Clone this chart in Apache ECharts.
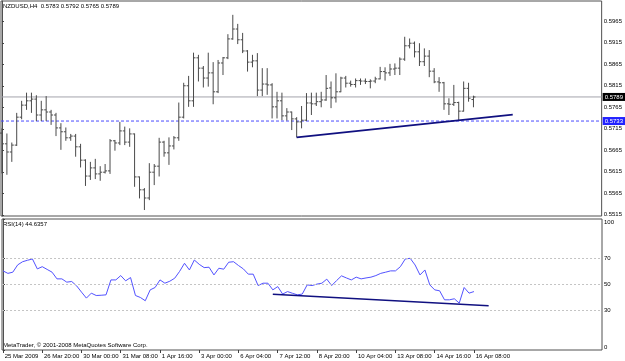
<!DOCTYPE html>
<html><head><meta charset="utf-8">
<script src="https://cdn.jsdelivr.net/npm/echarts@6/dist/echarts.min.js"></script>
<style>html,body{margin:0;padding:0;background:#fff}#c{width:625px;height:361px}</style>
</head><body><div id="c"></div>
<script>
// ---- data (NZDUSD, H4) ----
const opens = [0.5705,0.5680,0.5661,0.5677,0.5742,0.5770,0.5780,0.5784,0.5747,0.5759,
0.5754,0.5747,0.5717,0.5708,0.5694,0.5698,0.5673,0.5642,0.5605,0.5624,
0.5610,0.5614,0.5617,0.5687,0.5682,0.5710,0.5684,0.5703,0.5603,0.5573,
0.5554,0.5614,0.5628,0.5684,0.5659,0.5675,0.5694,0.5742,0.5815,0.5780,
0.5880,0.5856,0.5833,0.5845,0.5801,0.5868,0.5880,0.5924,0.5947,0.5922,
0.5896,0.5870,0.5873,0.5805,0.5819,0.5817,0.5766,0.5780,0.5745,0.5754,
0.5738,0.5731,0.5735,0.5775,0.5773,0.5778,0.5782,0.5810,0.5787,0.5801,
0.5833,0.5821,0.5818,0.5827,0.5826,0.5825,0.5826,0.5831,0.5848,0.5845,
0.5854,0.5856,0.5877,0.5908,0.5914,0.5894,0.5871,0.5884,0.5849,0.5824,
0.5822,0.5773,0.5772,0.5776,0.5756,0.5809,0.5783];
const highs = [0.5716,0.5704,0.5683,0.5752,0.5780,0.5799,0.5799,0.5793,0.5780,0.5791,
0.5759,0.5752,0.5728,0.5718,0.5703,0.5703,0.5680,0.5644,0.5638,0.5645,
0.5628,0.5633,0.5691,0.5689,0.5731,0.5720,0.5716,0.5704,0.5604,0.5577,
0.5635,0.5633,0.5694,0.5687,0.5695,0.5698,0.5776,0.5822,0.5838,0.5892,
0.5887,0.5861,0.5892,0.5870,0.5875,0.5882,0.5935,0.5980,0.5959,0.5938,
0.5898,0.5887,0.5891,0.5856,0.5856,0.5821,0.5801,0.5799,0.5763,0.5755,
0.5742,0.5768,0.5798,0.5799,0.5799,0.5801,0.5840,0.5825,0.5844,0.5836,
0.5838,0.5827,0.5832,0.5832,0.5832,0.5830,0.5836,0.5859,0.5858,0.5866,
0.5867,0.5881,0.5929,0.5925,0.5918,0.5914,0.5902,0.5898,0.5856,0.5835,
0.5824,0.5786,0.5817,0.5778,0.5825,0.5822,0.5792];
const lows = [0.5611,0.5608,0.5638,0.5675,0.5737,0.5759,0.5752,0.5733,0.5733,0.5733,
0.5724,0.5698,0.5666,0.5687,0.5687,0.5650,0.5625,0.5582,0.5596,0.5598,
0.5594,0.5611,0.5610,0.5664,0.5677,0.5677,0.5673,0.5580,0.5553,0.5526,
0.5549,0.5584,0.5604,0.5650,0.5631,0.5667,0.5687,0.5739,0.5766,0.5766,
0.5825,0.5811,0.5813,0.5772,0.5798,0.5840,0.5877,0.5922,0.5912,0.5891,
0.5848,0.5858,0.5791,0.5791,0.5794,0.5739,0.5739,0.5735,0.5734,0.5712,
0.5695,0.5716,0.5733,0.5747,0.5768,0.5765,0.5780,0.5763,0.5776,0.5800,
0.5811,0.5813,0.5811,0.5817,0.5819,0.5809,0.5821,0.5830,0.5827,0.5838,
0.5840,0.5840,0.5873,0.5902,0.5881,0.5861,0.5861,0.5835,0.5821,0.5801,
0.5759,0.5747,0.5768,0.5735,0.5755,0.5778,0.5765];
const closes = [0.5680,0.5661,0.5677,0.5742,0.5770,0.5780,0.5784,0.5747,0.5759,0.5754,
0.5747,0.5717,0.5708,0.5694,0.5698,0.5673,0.5642,0.5605,0.5624,0.5610,
0.5614,0.5617,0.5687,0.5682,0.5710,0.5684,0.5703,0.5603,0.5573,0.5554,
0.5614,0.5628,0.5684,0.5659,0.5675,0.5694,0.5742,0.5815,0.5780,0.5880,
0.5856,0.5833,0.5845,0.5801,0.5868,0.5880,0.5924,0.5947,0.5922,0.5896,
0.5870,0.5873,0.5805,0.5819,0.5817,0.5766,0.5780,0.5745,0.5754,0.5738,
0.5731,0.5735,0.5775,0.5773,0.5778,0.5782,0.5809,0.5787,0.5801,0.5833,
0.5821,0.5818,0.5827,0.5826,0.5825,0.5826,0.5831,0.5848,0.5845,0.5854,
0.5856,0.5877,0.5908,0.5914,0.5894,0.5871,0.5884,0.5849,0.5824,0.5822,
0.5773,0.5772,0.5776,0.5756,0.5809,0.5786,0.5789];
const rsi = [60.4,58.5,59.4,65.0,67.4,68.5,69.5,61.9,63.6,61.5,
59.4,54.3,54.3,51.8,52.3,49.0,44.2,39.6,43.4,41.6,
41.8,42.1,53.5,53.5,56.8,52.8,55.3,41.6,40.1,37.6,
45.9,47.7,53.5,51.0,52.5,54.8,60.0,66.2,61.1,68.7,
65.4,62.9,63.2,57.3,62.4,61.7,67.0,67.4,64.5,61.9,
57.9,57.9,49.2,51.0,51.0,45.9,48.4,42.7,44.6,43.3,
42.1,42.7,49.7,49.2,50.3,51.0,54.1,49.2,53.0,56.6,
55.0,53.5,55.6,54.3,55.0,55.6,56.8,58.5,59.4,60.4,
60.4,63.6,69.5,70.0,64.9,57.3,61.1,49.7,45.9,45.2,
38.3,38.3,39.1,35.8,47.7,43.4,44.6];
const timeTickIndex = [0,8,16,24,32,40,48,56,64,72,80,88,96];
const timeLabels = ['25 Mar 2009','26 Mar 20:00','30 Mar 00:00','31 Mar 08:00','1 Apr 16:00','3 Apr 00:00','6 Apr 04:00','7 Apr 12:00','8 Apr 20:00','10 Apr 04:00','13 Apr 08:00','14 Apr 16:00','16 Apr 08:00'];
const priceTicks = [0.5515,0.5565,0.5615,0.5665,0.5715,0.5765,0.5815,0.5865,0.5915,0.5965];
const rsiTicks = [0,30,50,70,100];
const rsiLevels = [30,50,70];
const trendMain = [[60,0.5695],[104,0.5748]];
const trendRsi = [[55,42.5],[99,33.8]];
const bidPrice = 0.5789;
const alertPrice = 0.5733;
const titleText = 'NZDUSD,H4  0.5783 0.5792 0.5765 0.5789';
const rsiTitle = 'RSI(14) 44.6357';
const copyright = 'MetaTrader, \u00a9 2001-2008 MetaQuotes Software Corp.';

// ---- chart ----
const FONT = 'Liberation Sans, Arial, sans-serif';
const XMIN = -0.2, XMAX = 122.1;
const ohlc = opens.map((o,i)=>[i,o,highs[i],lows[i],closes[i]]);
const chart = echarts.init(document.getElementById('c'), null, {renderer:'canvas'});
const xBase = {type:'value', min:XMIN, max:XMAX, axisLine:{show:false}, splitLine:{show:false}};
function levelSeries(price, color, dash, boxColor){
  return {type:'line', xAxisIndex:0, yAxisIndex:0, data:[[XMIN,price],[XMAX,price]], symbol:'none', silent:true,
    lineStyle:{color:color, type:dash, width:1}, z:1,
    endLabel:{show:true, distance:1, formatter:price.toFixed(4), color:'#fff', backgroundColor:boxColor,
      padding:[1,2,1,2], fontSize:6, fontFamily:FONT}};
}
chart.setOption({
  animation:false,
  backgroundColor:'#ffffff',
  grid:[
    {left:1, top:1, width:601, height:215, show:true, borderColor:'#505050', borderWidth:1, backgroundColor:'transparent'},
    {left:1, top:219, width:601, height:131, show:true, borderColor:'#505050', borderWidth:1, backgroundColor:'transparent'}
  ],
  xAxis:[
    Object.assign({gridIndex:0, axisTick:{show:false}, axisLabel:{show:false}}, xBase),
    Object.assign({gridIndex:1,
      axisTick:{show:true, customValues:timeTickIndex, length:3, lineStyle:{color:'#404040'}},
      axisLabel:{show:true, customValues:timeTickIndex, align:'left', margin:3, fontSize:6, fontFamily:FONT, color:'#000',
        formatter:(v)=>{const k=timeTickIndex.indexOf(Math.round(v)); return k>=0? ' '+timeLabels[k] : '';}}}, xBase)
  ],
  yAxis:[
    {gridIndex:0, type:'value', position:'right', min:0.55121, max:0.60122, splitLine:{show:false},
      axisLine:{show:true, lineStyle:{color:'#505050'}},
      axisTick:{show:true, customValues:priceTicks, length:2, lineStyle:{color:'#404040'}},
      axisLabel:{customValues:priceTicks, formatter:(v)=>v.toFixed(4), fontSize:6, fontFamily:FONT, color:'#000', margin:2}},
    {gridIndex:1, type:'value', position:'right', min:0, max:100, splitLine:{show:false},
      axisLine:{show:true, lineStyle:{color:'#505050'}},
      axisTick:{show:true, customValues:rsiTicks, length:2, lineStyle:{color:'#404040'}},
      axisLabel:{customValues:rsiTicks, fontSize:6, fontFamily:FONT, color:'#000', margin:2,
        verticalAlignMinLabel:'bottom', verticalAlignMaxLabel:'top'}}
  ],
  graphic:[
    {type:'text', left:3, top:3, style:{text:titleText, font:'6px '+FONT, fill:'#000'}},
    {type:'text', left:3, top:221, style:{text:rsiTitle, font:'6px '+FONT, fill:'#000'}},
    {type:'text', left:3, top:342, style:{text:copyright, font:'6px '+FONT, fill:'#000'}}
  ],
  series:[
    levelSeries(bidPrice, '#a4a4ac', 'solid', '#000000'),
    levelSeries(alertPrice, '#4a4aff', [3,2], '#2222ff'),
    {type:'custom', name:'NZDUSD', xAxisIndex:0, yAxisIndex:0, data:ohlc, encode:{x:0, y:[1,2,3,4]}, z:3,
      renderItem:(params, api)=>{
        const x = api.value(0);
        const o = api.coord([x, api.value(1)]);
        const h = api.coord([x, api.value(2)]);
        const l = api.coord([x, api.value(3)]);
        const c = api.coord([x, api.value(4)]);
        const px = o[0];
        const st = {stroke:'#4a4a4a', lineWidth:1};
        return {type:'group', children:[
          {type:'line', shape:{x1:px, y1:h[1], x2:px, y2:l[1]}, style:st},
          {type:'line', shape:{x1:px-2, y1:o[1], x2:px, y2:o[1]}, style:st},
          {type:'line', shape:{x1:px, y1:c[1], x2:px+2, y2:c[1]}, style:st}
        ]};
      }
    },
    {type:'line', name:'trend', xAxisIndex:0, yAxisIndex:0, data:trendMain, symbol:'none', z:4, lineStyle:{color:'#101080', width:1.6}},
    {type:'line', name:'RSI', xAxisIndex:1, yAxisIndex:1, data:rsi.map((v,i)=>[i,v]), symbol:'none', z:3, lineStyle:{color:'#5252ff', width:1},
      markLine:{silent:true, symbol:'none', label:{show:false}, lineStyle:{color:'#c4c4c4', type:[2,2], width:1},
        data:rsiLevels.map(v=>({yAxis:v}))}},
    {type:'line', name:'RSI trend', xAxisIndex:1, yAxisIndex:1, data:trendRsi, symbol:'none', z:4, lineStyle:{color:'#101080', width:1.6}}
  ]
});
</script></body></html>
